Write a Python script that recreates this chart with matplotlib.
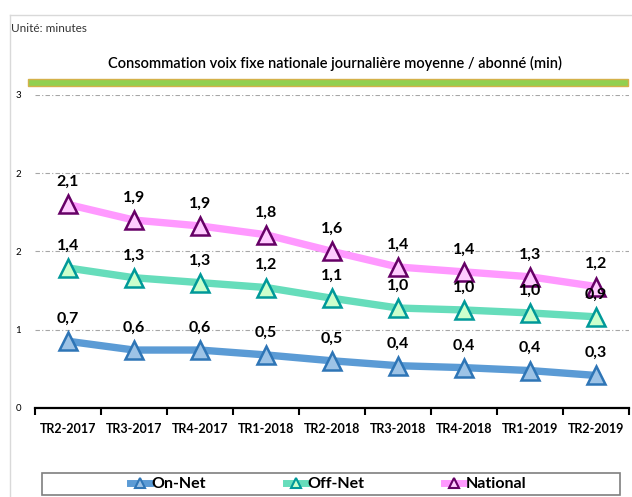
import matplotlib
matplotlib.use("Agg")
import matplotlib.pyplot as plt
from matplotlib.lines import Line2D
from matplotlib.patches import Rectangle
from matplotlib.ticker import FixedLocator, FuncFormatter

categories = ["TR2-2017", "TR3-2017", "TR4-2017", "TR1-2018", "TR2-2018",
              "TR3-2018", "TR4-2018", "TR1-2019", "TR2-2019"]
on_net = [0.68, 0.59, 0.59, 0.54, 0.48, 0.43, 0.41, 0.38, 0.33]
off_net = [1.43, 1.33, 1.28, 1.23, 1.12, 1.02, 1.00, 0.97, 0.93]
national = [2.08, 1.92, 1.86, 1.77, 1.60, 1.44, 1.39, 1.34, 1.24]
y_ticks = [0, 0.8, 1.6, 2.4, 3.2]

FONT = ['Lato', 'DejaVu Sans']
plt.rcParams['font.family'] = FONT

W, H = 632, 497
fig = plt.figure(figsize=(W / 100, H / 100), dpi=100)

def fx(px):
    return px / W

def fy(py):
    return 1 - py / H

ax = fig.add_axes([fx(35), fy(407.7), fx(629) - fx(35), fy(95) - fy(407.7)])

series = [
    ("On-Net", on_net, "#5B9BD5", "#9DC3E6", "#2E75B6"),
    ("Off-Net", off_net, "#66DDBB", "#CCFFCC", "#009999"),
    ("National", national, "#FF99FF", "#FFCCFF", "#660066"),
]
x = list(range(len(categories)))
handles = []
for name, vals, lc, fc, ec in series:
    ax.plot(x, vals, color=lc, lw=5.3, solid_capstyle='round', zorder=3)
    ax.plot(x, vals, ls='none', marker='^', ms=13.5, mfc=fc, mec=ec, mew=1.8, zorder=4)
    for xi, v in zip(x, vals):
        ax.annotate(f"{v:.1f}".replace('.', ','), (xi, v), xytext=(0, 11),
                    textcoords='offset points', ha='center', va='bottom',
                    fontsize=11.5, fontweight='bold', color='black', zorder=5)
    handles.append(Line2D([0], [0], color=lc, lw=5, marker='^', ms=7,
                          mfc=fc, mec=ec, mew=1.5, label=name))

ax.set_xlim(-0.5, len(categories) - 0.5)
ax.set_ylim(y_ticks[0], y_ticks[-1])
ax.yaxis.set_major_locator(FixedLocator(y_ticks))
ax.yaxis.set_major_formatter(FuncFormatter(lambda v, p: f"{v:.0f}"))
ax.grid(axis='y', color='#A6A6A6', ls=(0, (4, 2, 1, 2)), lw=0.8)
ax.set_axisbelow(True)
for s in ['top', 'right', 'left']:
    ax.spines[s].set_visible(False)
ax.spines['bottom'].set_linewidth(1.6)
ax.spines['bottom'].set_color('black')
ax.tick_params(axis='y', length=0, labelsize=7, pad=10)
ax.set_xticks(x)
ax.set_xticklabels(categories, fontsize=9, fontweight='bold')
ax.tick_params(axis='x', which='major', length=0, pad=11)
ax.set_xticks([i - 0.5 for i in range(len(categories) + 1)], minor=True)
ax.tick_params(axis='x', which='minor', length=5, width=1.5, direction='out')
ax.patch.set_alpha(0)

# frame lines
fig.add_artist(Line2D([fx(10), 1], [fy(15), fy(15)], color='#D9D9D9', lw=1))
fig.add_artist(Line2D([fx(10), fx(10)], [fy(15), 0], color='#D9D9D9', lw=1))

fig.text(fx(11), fy(28), "Unité: minutes", fontsize=8.5, color='#333333',
         va='center', ha='left')
fig.text(fx(335), fy(63), "Consommation voix fixe nationale journalière moyenne / abonné (min)",
         fontsize=10.5, fontweight='semibold', va='center', ha='center', color='black')
fig.add_artist(Rectangle((fx(28), fy(86)), fx(628) - fx(28), fy(79) - fy(86),
                         facecolor='#92D050', edgecolor='#D4B14A', lw=1))

# legend
fig.add_artist(Rectangle((fx(42), fy(495)), fx(620) - fx(42), fy(473) - fy(495),
                         facecolor='white', edgecolor='#7F7F7F', lw=1.2, clip_on=False))
fig.legend(handles=handles, loc='center', bbox_to_anchor=(fx(328), fy(484)),
           ncol=3, frameon=False, handlelength=1.3,
           handletextpad=0.05, columnspacing=5.0, borderaxespad=0,
           prop={'size': 11.5, 'weight': 'bold'})

fig.savefig("out.png", dpi=100)
